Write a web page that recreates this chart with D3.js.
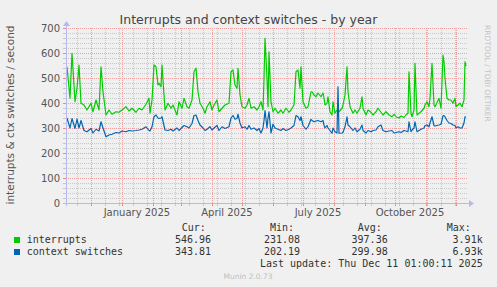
<!DOCTYPE html>
<html>
<head>
<meta charset="utf-8">
<script src="https://cdn.jsdelivr.net/npm/d3@7"></script>
<style>
  body { margin: 0; background: #f0f0f0; }
  svg { display: block; }
</style>
</head>
<body>
<svg id="chart" width="497" height="287"></svg>
<script>
// time window of the munin "by year" graph (400 days up to last update)
const startTime = new Date(Date.UTC(2024, 10, 6, 1, 0, 11));
const endTime = new Date(Date.UTC(2025, 11, 11, 1, 0, 11));

// day offsets from startTime
const days = [1, 4, 6, 9, 11, 13, 15, 18, 21, 25, 27, 30, 33, 35, 37, 40, 43, 46, 50, 53,
  56, 60, 63, 66, 70, 73, 76, 80, 83, 84, 86, 88, 90, 92, 93, 95, 96, 98, 99, 102,
  105, 107, 111, 113, 116, 118, 121, 123, 126, 128, 130, 132, 134, 137, 139, 141, 144, 146, 148, 151,
  153, 156, 159, 163, 165, 167, 169, 171, 172, 174, 176, 179, 181, 183, 185, 188, 191, 193, 195, 197,
  198, 199, 201, 202, 203, 205, 207, 209, 212, 215, 217, 220, 223, 225, 228, 230, 232, 234, 235, 237,
  240, 242, 245, 246, 248, 250, 252, 255, 257, 258, 259, 261, 262, 264, 266, 267, 269, 271, 272, 273,
  276, 277, 279, 281, 282, 284, 287, 289, 291, 294, 296, 297, 300, 302, 305, 307, 310, 312, 315, 317,
  320, 323, 326, 328, 330, 333, 335, 338, 340, 342, 343, 345, 346, 348, 349, 351, 353, 355, 358, 359,
  361, 363, 364, 366, 368, 369, 371, 373, 375, 377, 378, 379, 381, 383, 385, 387, 389, 390, 392, 394,
  396, 398, 399, 400];

const interrupts = [545, 419, 599, 405, 459, 552, 399, 392, 372, 399, 365, 412, 372, 545, 445, 352, 372, 355, 365, 363,
  372, 385, 368, 379, 363, 379, 372, 395, 419, 359, 412, 552, 545, 472, 479, 465, 552, 432, 372, 399,
  379, 392, 352, 405, 379, 419, 385, 379, 412, 525, 539, 445, 399, 379, 359, 385, 405, 372, 392, 412,
  365, 379, 392, 399, 525, 532, 472, 459, 539, 432, 385, 379, 392, 419, 379, 385, 372, 385, 405, 372,
  499, 659, 499, 385, 605, 405, 365, 379, 359, 372, 359, 379, 363, 372, 392, 525, 532, 459, 545, 405,
  379, 385, 445, 445, 432, 425, 440, 425, 440, 420, 392, 399, 425, 365, 352, 405, 359, 372, 372, 365,
  379, 392, 432, 545, 445, 385, 359, 372, 359, 379, 425, 379, 352, 372, 363, 352, 365, 379, 363, 352,
  365, 352, 345, 355, 345, 340, 348, 342, 352, 359, 525, 359, 345, 372, 559, 352, 359, 365, 379, 392,
  405, 385, 419, 559, 392, 385, 402, 419, 379, 592, 565, 499, 419, 412, 412, 399, 419, 385, 392, 399,
  385, 412, 565, 547];

const ctxSwitches = [340, 300, 338, 298, 336, 300, 330, 290, 285, 298, 280, 295, 288, 325, 300, 265, 272, 275, 282, 280,
  288, 285, 290, 288, 290, 292, 295, 305, 290, 288, 305, 345, 352, 340, 338, 340, 345, 310, 292, 290,
  295, 288, 300, 290, 302, 310, 305, 300, 318, 350, 352, 330, 312, 300, 290, 295, 305, 292, 300, 310,
  290, 305, 298, 305, 340, 350, 335, 338, 355, 320, 300, 305, 295, 310, 295, 300, 290, 298, 280, 300,
  330, 370, 300, 340, 365, 280, 315, 300, 295, 290, 298, 290, 295, 300, 310, 350, 345, 330, 345, 310,
  295, 305, 335, 330, 325, 328, 330, 325, 330, 312, 300, 310, 300, 290, 279, 300, 285, 280, 465, 279,
  280, 283, 305, 345, 312, 305, 290, 300, 285, 295, 312, 290, 280, 290, 285, 290, 292, 305, 312, 290,
  285, 288, 290, 280, 282, 285, 282, 290, 288, 285, 325, 285, 292, 300, 325, 285, 290, 295, 300, 310,
  312, 305, 320, 345, 310, 308, 310, 312, 315, 349, 350, 345, 330, 320, 318, 312, 310, 300, 305, 300,
  300, 320, 345, 344];

const yTicks = [0, 100, 200, 300, 400, 500, 600, 700];
const monthLabelDates = ["2025-01-16", "2025-04-16", "2025-07-16", "2025-10-16"];

const seriesNames = ["interrupts", "context switches"];
const curValues = ["546.96", "343.81"];
const minValues = ["231.08", "202.19"];
const avgValues = ["397.36", "299.98"];
const maxValues = ["3.91k", "6.93k"];
const columnHeads = ["Cur:", "Min:", "Avg:", "Max:"];
const lastUpdate = "Last update: Thu Dec 11 01:00:11 2025";

const colors = ["#00cc00", "#0066b3"];

const svg = d3.select("#chart");
const plotLeft = 66, plotRight = 466, plotTop = 28, plotBottom = 203;
const monoFont = "'DejaVu Sans Mono', monospace";
const sansFont = "'DejaVu Sans', sans-serif";

const x = d3.scaleUtc().domain([startTime, endTime]).range([plotLeft, plotRight]);
const y = d3.scaleLinear().domain([0, 700]).range([plotBottom, plotTop]);
const px = v => Math.round(v) + 0.5;

svg.append("rect").attr("width", 497).attr("height", 287).attr("fill", "#f0f0f0");

// grid
const grid = svg.append("g").attr("shape-rendering", "crispEdges");
const minorY = d3.range(0, 701, 20).filter(v => v % 100 !== 0);
const minorX = d3.utcDay.range(new Date(Date.UTC(2024, 10, 17)), endTime, 14);
const months = d3.utcMonth.range(startTime, endTime);

function hLines(data, color) {
  grid.append("g").selectAll("line").data(data).enter().append("line")
    .attr("x1", plotLeft).attr("x2", plotRight + 2)
    .attr("y1", d => px(y(d))).attr("y2", d => px(y(d)))
    .attr("stroke", color).attr("stroke-dasharray", "1,1");
}
function vLines(data, color) {
  grid.append("g").selectAll("line").data(data).enter().append("line")
    .attr("x1", d => px(x(d))).attr("x2", d => px(x(d)))
    .attr("y1", plotTop).attr("y2", plotBottom)
    .attr("stroke", color).attr("stroke-dasharray", "1,1");
}
hLines(minorY, "#c8c8c8");
vLines(minorX, "#c8c8c8");
hLines(yTicks.slice(1), "#eca0a0");
vLines(months, "#eca0a0");

// tick marks outside the frame
function xTicks(data, color) {
  grid.append("g").selectAll("line").data(data).enter().append("line")
    .attr("x1", d => px(x(d))).attr("x2", d => px(x(d)))
    .attr("y1", plotBottom).attr("y2", plotBottom + 3).attr("stroke", color);
}
function yTickMarks(data, color) {
  grid.append("g").selectAll("line").data(data).enter().append("line")
    .attr("x1", plotLeft - 3).attr("x2", plotLeft)
    .attr("y1", d => px(y(d))).attr("y2", d => px(y(d)))
    .attr("stroke", color);
}
xTicks(minorX, "#c8c8c8");
xTicks(months, "#e88a8a");
yTickMarks(minorY, "#c8c8c8");
yTickMarks(yTicks, "#e88a8a");

// series
const seriesValues = [interrupts, ctxSwitches];
seriesValues.forEach((vals, i) => {
  const line = d3.line()
    .x((d, j) => x(d3.utcDay.offset(startTime, days[j])))
    .y(d => y(d));
  svg.append("path").datum(vals)
    .attr("fill", "none")
    .attr("stroke", colors[i])
    .attr("stroke-width", 1.2)
    .attr("stroke-linejoin", "round")
    .attr("d", line);
});

// axes with arrows
const axisColor = "#b8b8f0";
svg.append("line").attr("x1", plotLeft - 3).attr("x2", plotRight + 5)
  .attr("y1", plotBottom + 0.5).attr("y2", plotBottom + 0.5).attr("stroke", axisColor);
svg.append("line").attr("x1", plotLeft + 0.5).attr("x2", plotLeft + 0.5)
  .attr("y1", plotBottom + 3).attr("y2", plotTop - 4).attr("stroke", axisColor);
svg.append("path").attr("d", `M${plotRight + 3},${plotBottom - 3} L${plotRight + 8},${plotBottom + 0.5} L${plotRight + 3},${plotBottom + 4} Z`)
  .attr("fill", axisColor);
svg.append("path").attr("d", `M${plotLeft - 3},${plotTop - 2} L${plotLeft + 0.5},${plotTop - 7} L${plotLeft + 4},${plotTop - 2} Z`)
  .attr("fill", axisColor);

// y tick labels
svg.selectAll(".ylab").data(yTicks).enter().append("text")
  .attr("x", plotLeft - 6).attr("y", d => y(d) + 3.5)
  .attr("text-anchor", "end")
  .attr("font-family", sansFont).attr("font-size", 10).attr("fill", "#555")
  .text(d => d);

// x labels
const parseDay = d3.utcParse("%Y-%m-%d");
const fmt = d3.utcFormat("%B %Y");
svg.selectAll(".xlab").data(monthLabelDates.map(parseDay)).enter().append("text")
  .attr("x", d => x(d)).attr("y", plotBottom + 13)
  .attr("text-anchor", "middle")
  .attr("font-family", sansFont).attr("font-size", 10).attr("fill", "#555")
  .text(d => fmt(d));

// title
svg.append("text").attr("x", 248.5).attr("y", 24)
  .attr("text-anchor", "middle")
  .attr("font-family", sansFont).attr("font-size", 12.5).attr("fill", "#444")
  .text("Interrupts and context switches - by year");

// vertical axis label
svg.append("text")
  .attr("transform", "translate(14,115) rotate(-90)")
  .attr("text-anchor", "middle")
  .attr("font-family", sansFont).attr("font-size", 10.5).attr("fill", "#555")
  .text("interrupts & ctx switches / second");

// rrdtool credit
svg.append("text")
  .attr("transform", "translate(485,25) rotate(90)")
  .attr("font-family", sansFont).attr("font-size", 7.5).attr("fill", "#c4c4c4")
  .text("RRDTOOL / TOBI OETIKER");

// legend
const headX = [181.7, 270, 357.7, 446.7];
const valEnd = [211, 300, 387.7, 482.7];
const legend = svg.append("g").attr("font-family", monoFont).attr("font-size", 10).attr("fill", "#333");
legend.selectAll(".head").data(columnHeads).enter().append("text")
  .attr("x", (d, i) => headX[i]).attr("y", 231).text(d => d);

const cols = [curValues, minValues, avgValues, maxValues];
seriesNames.forEach((name, i) => {
  const yy = 243 + i * 12;
  legend.append("rect").attr("x", 14).attr("y", yy - 6).attr("width", 6).attr("height", 6)
    .attr("fill", colors[i]);
  legend.append("text").attr("x", 26.7).attr("y", yy).text(name);
  cols.forEach((col, k) => {
    legend.append("text").attr("x", valEnd[k]).attr("y", yy)
      .attr("text-anchor", "end").text(col[i]);
  });
});
legend.append("text").attr("x", 482.7).attr("y", 267).attr("text-anchor", "end").text(lastUpdate);

svg.append("text").attr("x", 248).attr("y", 279)
  .attr("text-anchor", "middle")
  .attr("font-family", sansFont).attr("font-size", 7.5).attr("fill", "#c0c0c0")
  .text("Munin 2.0.73");
</script>
</body>
</html>
